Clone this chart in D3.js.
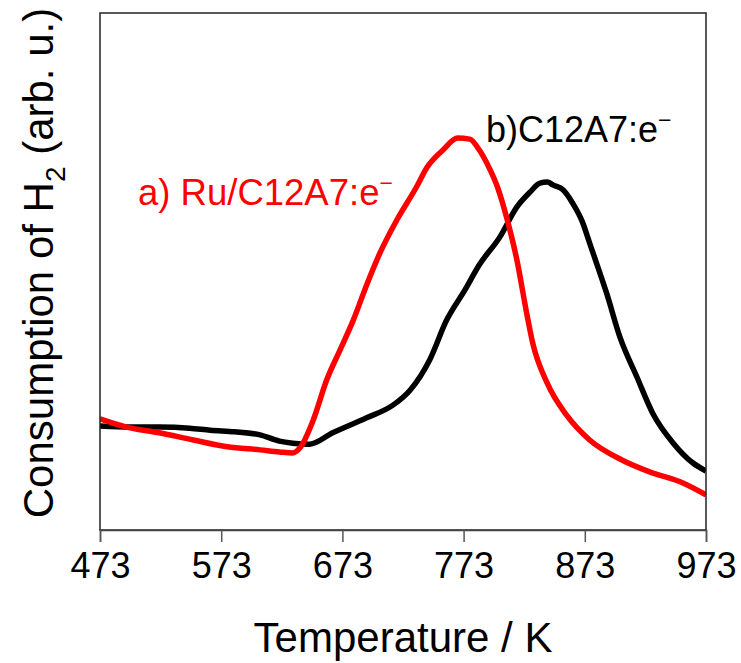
<!DOCTYPE html>
<html>
<head>
<meta charset="utf-8">
<script src="https://cdn.jsdelivr.net/npm/d3@7"></script>
<style>
  body { margin: 0; background: #fff; }
</style>
</head>
<body>
<div id="chart"></div>
<script>
// temperature (K) and H2 consumption (arb. u.)
var tempC12A7 = [473, 498, 522, 547, 564, 584, 605, 621, 632, 646, 665, 693, 715, 729, 745, 759, 774, 786, 803, 817, 828, 836, 842, 847, 855, 863, 871, 877, 884, 891, 902, 916, 929, 946, 962, 973];
var valC12A7 = [20.1, 19.9, 19.9, 19.7, 19.3, 19.0, 18.4, 17.2, 16.8, 16.6, 18.8, 21.7, 24.2, 27.1, 32.9, 40.6, 46.4, 51.3, 56.7, 62.5, 65.4, 67.1, 67.3, 66.7, 65.8, 63.2, 59.6, 55.5, 50.7, 45.8, 37.3, 29.6, 22.6, 16.8, 13.0, 11.4];

var tempRu = [473, 495, 522, 550, 578, 605, 621, 632, 638, 649, 660, 671, 682, 693, 704, 718, 734, 743, 756, 768, 778, 786, 795, 801, 809, 817, 825, 830, 842, 858, 877, 904, 927, 954, 973];
var valRu = [21.5, 19.9, 18.8, 17.4, 16.1, 15.5, 15.1, 14.9, 15.9, 21.3, 29.0, 34.8, 40.6, 47.4, 53.6, 60.0, 66.3, 70.2, 73.5, 75.8, 75.6, 73.5, 69.6, 66.3, 60.0, 52.2, 42.0, 36.2, 28.4, 22.2, 17.4, 13.5, 11.2, 9.1, 6.8];

var xTicks = [473, 573, 673, 773, 873, 973];

var width = 741;
var height = 663;
var margin = { top: 13, right: 35, bottom: 133, left: 100 };
var fontFamily = "'Liberation Sans', Arial, Helvetica, sans-serif";

var plotW = width - margin.left - margin.right;
var plotH = height - margin.top - margin.bottom;

var svg = d3
  .select("#chart")
  .append("svg")
  .attr("width", width)
  .attr("height", height)
  .style("font-family", fontFamily);

var g = svg
  .append("g")
  .attr("transform", "translate(" + margin.left + "," + margin.top + ")");

var x = d3.scaleLinear().domain([473, 973]).range([0, plotW]);
var y = d3.scaleLinear().domain([0, 100]).range([plotH, 0]);

var black = tempC12A7.map(function (t, i) {
  return { t: t, v: valC12A7[i] };
});
var red = tempRu.map(function (t, i) {
  return { t: t, v: valRu[i] };
});

var line = d3
  .line()
  .curve(d3.curveMonotoneX)
  .x(function (d) { return x(d.t); })
  .y(function (d) { return y(d.v); });

// clip so the thick lines stop at the frame
svg
  .append("clipPath")
  .attr("id", "clip")
  .append("rect")
  .attr("width", plotW)
  .attr("height", plotH);

var lines = g.append("g").attr("clip-path", "url(#clip)");

lines
  .append("path")
  .datum(black)
  .attr("fill", "none")
  .attr("stroke", "#000")
  .attr("stroke-width", 5.5)
  .attr("stroke-linejoin", "round")
  .attr("d", line);

lines
  .append("path")
  .datum(red)
  .attr("fill", "none")
  .attr("stroke", "#ff0000")
  .attr("stroke-width", 5.5)
  .attr("stroke-linejoin", "round")
  .attr("d", line);

// frame
g.append("rect")
  .attr("x", 0)
  .attr("y", 0)
  .attr("width", plotW)
  .attr("height", plotH)
  .attr("fill", "none")
  .attr("stroke", "#222")
  .attr("stroke-width", 1.5);

// x axis
var xAxis = g
  .append("g")
  .attr("transform", "translate(0," + plotH + ")")
  .call(d3.axisBottom(x).tickValues(xTicks).tickSize(12).tickPadding(10).tickFormat(d3.format("d")));

xAxis.select(".domain").attr("stroke", "#444").attr("stroke-width", 1.5);
xAxis.selectAll(".tick line").attr("stroke", "#555").attr("stroke-width", 1.5);
xAxis
  .selectAll(".tick text")
  .attr("fill", "#000")
  .style("font-family", fontFamily)
  .style("font-size", "36px");

// axis titles
svg
  .append("text")
  .attr("x", margin.left + plotW / 2)
  .attr("y", 652)
  .attr("text-anchor", "middle")
  .style("font-size", "42px")
  .text("Temperature / K");

var yTitle = svg
  .append("text")
  .attr("transform", "translate(53," + 263 + ") rotate(-90)")
  .attr("text-anchor", "middle")
  .style("font-size", "42px");

yTitle.append("tspan").text("Consumption of H");
yTitle.append("tspan").attr("dy", 12).style("font-size", "28px").text("2");
yTitle.append("tspan").attr("dy", -12).text(" (arb. u.)");

// series labels
var labelRu = svg
  .append("text")
  .attr("x", 138)
  .attr("y", 205)
  .attr("fill", "#ff0000")
  .style("font-size", "36.5px");
labelRu.append("tspan").text("a) Ru/C12A7:e");
labelRu.append("tspan").attr("dy", -14).style("font-size", "23px").text("\u2212");

var labelC = svg
  .append("text")
  .attr("x", 486)
  .attr("y", 142)
  .attr("fill", "#000")
  .style("font-size", "36px");
labelC.append("tspan").text("b)C12A7:e");
labelC.append("tspan").attr("dy", -14).style("font-size", "23px").text("\u2212");
</script>
</body>
</html>
